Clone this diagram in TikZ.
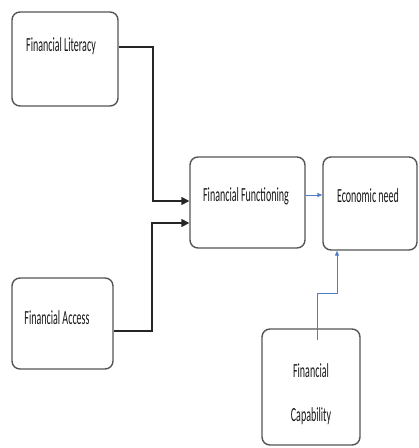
\documentclass[tikz,border=0pt]{standalone}
\usepackage{fontspec}
\setmainfont{Carlito}[FakeStretch=0.5]
\usetikzlibrary{arrows.meta}
\definecolor{boxgray}{RGB}{85,85,85}
\definecolor{lineblue}{RGB}{80,125,200}
\begin{document}
\begin{tikzpicture}[x=1pt,y=-1pt,
  box/.style={draw=boxgray,line width=1.4pt,rounded corners=8pt,fill=white,inner sep=0pt},
  lbl/.style={font=\fontsize{20}{24}\selectfont,text=black!90,inner sep=0pt},
  blk/.style={draw=black!85,line width=1.6pt,-{Triangle[length=8pt,width=8pt]}},
  blu/.style={draw=lineblue,line width=0.9pt,-{Triangle[length=5pt,width=4pt]}}]
\useasboundingbox[fill=white] (0,0) rectangle (419,448);
\node[box,minimum width=106pt,minimum height=94pt] (lit) at (65,59) {};
\node[lbl] (litT) at (61,46) {Financial Literacy};
\node[box,minimum width=101pt,minimum height=91pt] (acc) at (62.5,323.5) {};
\node[lbl] (accT) at (57,318) {Financial Access};
\node[box,minimum width=115pt,minimum height=91pt] (ff) at (247.5,202.5) {};
\node[lbl] (ffT) at (246,196) {Financial Functioning};
\node[box,minimum width=94pt,minimum height=93pt] (en) at (370,203.5) {};
\node[lbl] (enT) at (368,196) {Economic need};
\node[box,minimum width=98pt,minimum height=116pt] (cap) at (311,387) {};
\node[lbl] (capT1) at (311,371) {Financial};
\node[lbl] (capT2) at (311,416) {Capability};
\draw[blk] (lit.east |- 0,47) -- (153,47) |- (ff.west |- 0,201);
\draw[blk] (acc.east |- 0,331) -- (152,331) |- (ff.west |- 0,223);
\draw[blu] (ff.east |- 0,195) -- (en.west |- 0,195);
\coordinate (capStart) at (317,340);
\draw[blu] (capStart) -- (317,293) -- (337,293) -- (en.south -| 337,0);
\end{tikzpicture}
\end{document}
